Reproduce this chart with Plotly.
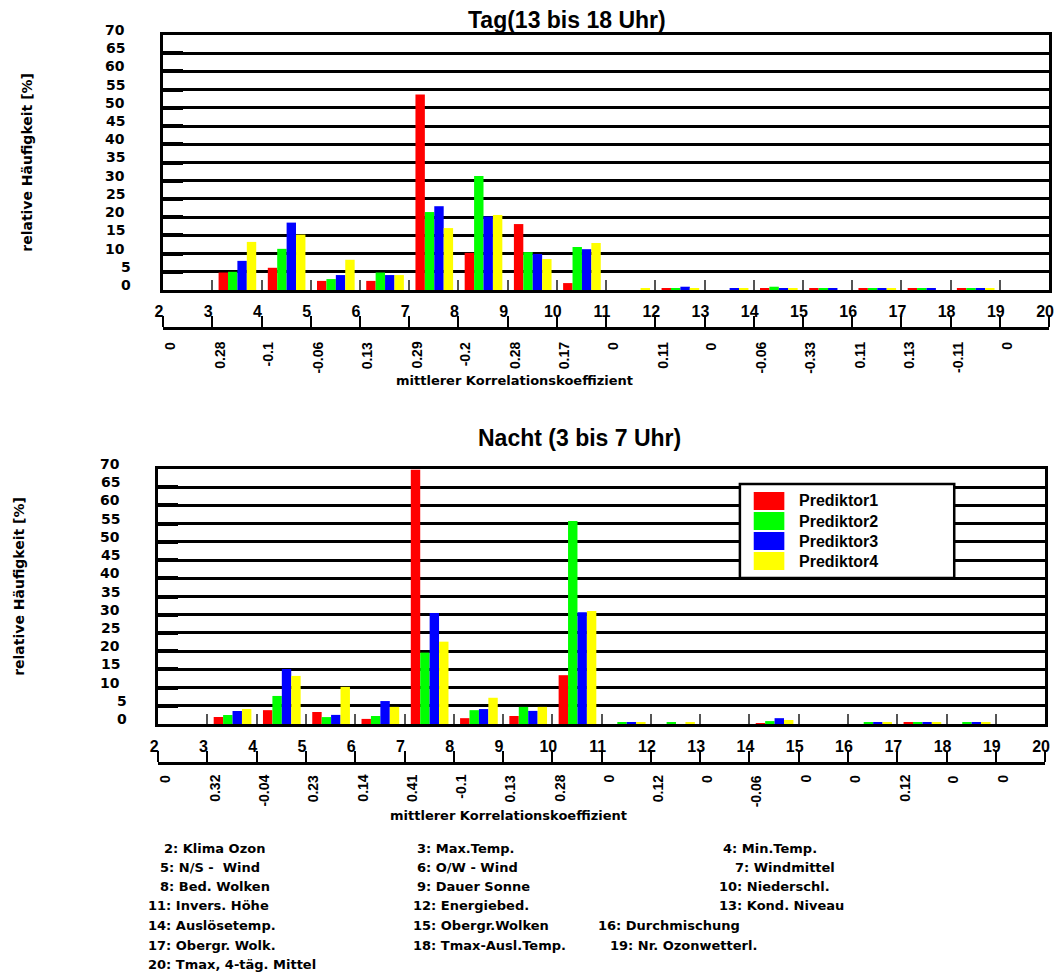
import plotly.graph_objects as go

# ---------------------------------------------------------------- data
CATEGORIES = list(range(2, 20))          # predictor number of each bar group
AXIS_NUMBERS = list(range(2, 21))        # numbered scale under each panel
Y_TICKS = list(range(0, 75, 5))
SERIES = ["Prediktor1", "Prediktor2", "Prediktor3", "Prediktor4"]
COLORS = ["#FF0000", "#00FF00", "#0000FF", "#FFFF00"]

# Tag (13 bis 18 Uhr): relative Häufigkeit [%] per predictor number
TAG_P1 = [0, 4.8, 6.1, 2.5, 2.5, 53.7, 10.2, 18.1, 1.9, 0, 0.3, 0, 0.3, 0.3, 0.3, 0.3, 0.3, 0]
TAG_P2 = [0, 5.0, 11.3, 3.0, 4.8, 21.4, 31.3, 10.4, 11.8, 0, 0.3, 0, 0.9, 0.3, 0.3, 0.3, 0.3, 0]
TAG_P3 = [0, 8.0, 18.5, 4.1, 4.1, 23.0, 20.2, 9.9, 11.2, 0, 0.9, 0.3, 0.3, 0.3, 0.3, 0.3, 0.3, 0]
TAG_P4 = [0, 13.2, 15.2, 8.3, 4.1, 17.0, 20.6, 8.5, 12.9, 0.4, 0.5, 0.3, 0.3, 0, 0.3, 0, 0.3, 0]
TAG_CORR = ["0", "0.28", "-0.1", "-0.06", "0.13", "0.29", "-0.2", "0.28", "0.17",
            "0", "0.11", "0", "-0.06", "-0.33", "0.11", "0.13", "-0.11", "0"]

# Nacht (3 bis 7 Uhr)
NACHT_P1 = [0, 1.9, 3.8, 3.3, 1.4, 69.8, 1.6, 2.2, 13.4, 0, 0, 0, 0.2, 0, 0, 0.3, 0, 0]
NACHT_P2 = [0, 2.5, 7.7, 1.9, 2.2, 19.6, 3.8, 4.7, 55.7, 0.3, 0.3, 0, 0.8, 0, 0.4, 0.3, 0.3, 0]
NACHT_P3 = [0, 3.6, 15.1, 2.5, 6.3, 30.5, 4.1, 3.6, 30.7, 0.3, 0, 0, 1.6, 0, 0.3, 0.5, 0.5, 0]
NACHT_P4 = [0, 4.1, 13.2, 10.2, 4.7, 22.6, 7.2, 4.7, 31.0, 0.3, 0.3, 0, 1.1, 0, 0.3, 0.5, 0.3, 0]
NACHT_CORR = ["0", "0.32", "-0.04", "0.23", "0.14", "0.41", "-0.1", "0.13", "0.28",
              "0", "0.12", "0", "-0.06", "0", "0", "0.12", "0", "0"]

PREDICTOR_NAMES = [
    "2: Klima Ozon", "3: Max.Temp.", "4: Min.Temp.",
    "5: N/S -  Wind", "6: O/W - Wind", "7: Windmittel",
    "8: Bed. Wolken", "9: Dauer Sonne", "10: Niederschl.",
    "11: Invers. Höhe", "12: Energiebed.", "13: Kond. Niveau",
    "14: Auslösetemp.", "15: Obergr.Wolken", "16: Durchmischung",
    "17: Obergr. Wolk.", "18: Tmax-Ausl.Temp.", "19: Nr. Ozonwetterl.",
    "20: Tmax, 4-täg. Mittel",
]

# ---------------------------------------------------------------- layout helpers
W, H = 1058, 972
ARIAL = "Arial, Liberation Sans, sans-serif"
WIDE = "DejaVu Sans, Verdana, sans-serif"


def px(x):
    return x / W


def py(y):
    return 1 - y / H


PANELS = [
    dict(title="Tag(13 bis 18 Uhr)", title_xy=(566, 20),
         box=(157, 1054, 35, 290), scale_y=328, corr_y=340, xtitle_xy=(513, 380),
         ytitle_xy=(19, 162), values=[TAG_P1, TAG_P2, TAG_P3, TAG_P4], corr=TAG_CORR,
         xa="x", ya="y", sa="x3"),
    dict(title="Nacht (3 bis 7 Uhr)", title_xy=(579, 438),
         box=(152, 1050, 469, 724), scale_y=763, corr_y=773, xtitle_xy=(507, 815),
         ytitle_xy=(11, 586), values=[NACHT_P1, NACHT_P2, NACHT_P3, NACHT_P4], corr=NACHT_CORR,
         xa="x2", ya="y2", sa="x4"),
]

# footer key: (left x, centre y) per entry
KEY_POS = [
    (156, 848), (412, 848), (722, 848),
    (152, 867), (412, 867), (734, 867),
    (152, 886), (412, 886), (718, 886),
    (140, 905), (408, 905), (718, 905),
    (140, 925), (408, 925), (595, 925),
    (140, 945), (408, 945), (607, 945),
    (140, 964),
]

# legend box (pixels): left, right, top, bottom; first row centre and row pitch
LEG_BOX = (741, 958, 484, 578)
LEG_ROW0, LEG_PITCH = 501, 20

fig = go.Figure()
annotations = []
shapes = []
layout = dict(
    width=W, height=H, autosize=False,
    margin=dict(l=0, r=0, t=0, b=0),
    paper_bgcolor="white", plot_bgcolor="white",
    barmode="group", bargap=0.235, bargroupgap=0,
    font=dict(family=ARIAL, color="black"),
    showlegend=False,
)


def note(**kw):
    base = dict(showarrow=False, xanchor="center", yanchor="middle")
    base.update(kw)
    annotations.append(base)


for i, p in enumerate(PANELS):
    x0, x1, y0, y1 = p["box"]
    ax_suffix = p["xa"][1:]
    ay_suffix = p["ya"][1:]
    sa_suffix = p["sa"][1:]

    for name, color, vals in zip(SERIES, COLORS, p["values"]):
        fig.add_trace(go.Bar(
            x=[c + 0.51 for c in CATEGORIES], y=vals, name=name,
            marker=dict(color=color, line=dict(width=0)),
            xaxis=p["xa"], yaxis=p["ya"],
        ))
    # anchor trace so the numbered scale axis is rendered
    fig.add_trace(go.Scatter(
        x=[AXIS_NUMBERS[0], AXIS_NUMBERS[-1]], y=[0, 0], mode="markers",
        marker=dict(opacity=0), hoverinfo="skip",
        xaxis=p["sa"], yaxis=p["ya"],
    ))

    layout["xaxis" + ax_suffix] = dict(
        domain=[px(x0), px(x1)], range=[2, 20], anchor=p["ya"],
        showgrid=False, zeroline=False, showline=True, linewidth=3,
        linecolor="black", mirror=True, ticks="inside",
        tickvals=CATEGORIES[1:], ticklen=10, tickwidth=1.5, tickcolor="#555",
        showticklabels=False, fixedrange=True,
    )
    layout["yaxis" + ay_suffix] = dict(
        domain=[py(y1), py(y0)], range=[0, 70], anchor=p["xa"],
        showgrid=True, gridcolor="black", gridwidth=2.5,
        tickvals=Y_TICKS, ticks="inside", ticklen=20, tickwidth=3.5,
        tickcolor="black", showticklabels=False, showline=True, linewidth=3,
        linecolor="black", mirror=True, zeroline=False, fixedrange=True,
    )
    layout["xaxis" + sa_suffix] = dict(
        overlaying=p["xa"], anchor="free", position=py(p["scale_y"]),
        side="top", range=[2, 20], tickvals=AXIS_NUMBERS,
        ticks="outside", ticklen=11, tickwidth=2, tickcolor="black",
        showline=True, linewidth=2.5, linecolor="black",
        showgrid=False, zeroline=False, ticklabelshift=-4, ticklabelstandoff=-7,
        tickfont=dict(family=ARIAL, size=16, weight="bold"), fixedrange=True,
    )

    # y tick labels
    for v in Y_TICKS:
        note(text=str(v), xref="paper", x=px(x0 - (30 if v < 10 else 37)),
             xanchor="right", yref=p["ya"], y=v, yshift=5,
             font=dict(family=WIDE, size=14, weight="bold"))
    # mean correlation coefficient per predictor
    for c, txt in zip(CATEGORIES, p["corr"]):
        note(text=txt, xref=p["xa"], x=c + 0.14,
             yref="paper", y=py(p["corr_y"]), yanchor="top", textangle=-90,
             font=dict(family=ARIAL, size=14, weight="bold"))
    note(text="mittlerer Korrelationskoeffizient", xref="paper", yref="paper",
         x=px(p["xtitle_xy"][0]), y=py(p["xtitle_xy"][1]),
         font=dict(family=WIDE, size=13, weight="bold"))
    note(text=p["title"], xref="paper", yref="paper",
         x=px(p["title_xy"][0]), y=py(p["title_xy"][1]),
         font=dict(family=ARIAL, size=23, weight="bold"))
    note(text="relative Häufigkeit [%]", xref="paper", yref="paper",
         x=px(p["ytitle_xy"][0]), y=py(p["ytitle_xy"][1]), textangle=-90,
         font=dict(family=WIDE, size=14, weight="bold"))

for txt, (kx, ky) in zip(PREDICTOR_NAMES, KEY_POS):
    note(text=txt, xref="paper", yref="paper", x=px(kx), y=py(ky),
         xanchor="left", font=dict(family=WIDE, size=13, weight="bold"))

# legend inside the night panel
lx0, lx1, ly0, ly1 = LEG_BOX
shapes.append(dict(type="rect", xref="paper", yref="paper",
                   x0=px(lx0), x1=px(lx1), y0=py(ly1), y1=py(ly0),
                   line=dict(color="black", width=2.5), fillcolor="white", layer="above"))
for k, (name, color) in enumerate(zip(SERIES, COLORS)):
    cy = LEG_ROW0 + k * LEG_PITCH
    shapes.append(dict(type="rect", xref="paper", yref="paper",
                       x0=px(755), x1=px(786), y0=py(cy + 9), y1=py(cy - 9),
                       line=dict(width=0), fillcolor=color, layer="above"))
    note(text=name, xref="paper", yref="paper", x=px(799), y=py(cy),
         xanchor="left", font=dict(family=ARIAL, size=16, weight="bold"))

layout["annotations"] = annotations
layout["shapes"] = shapes
fig.update_layout(**layout)
fig.write_html("out.html")
